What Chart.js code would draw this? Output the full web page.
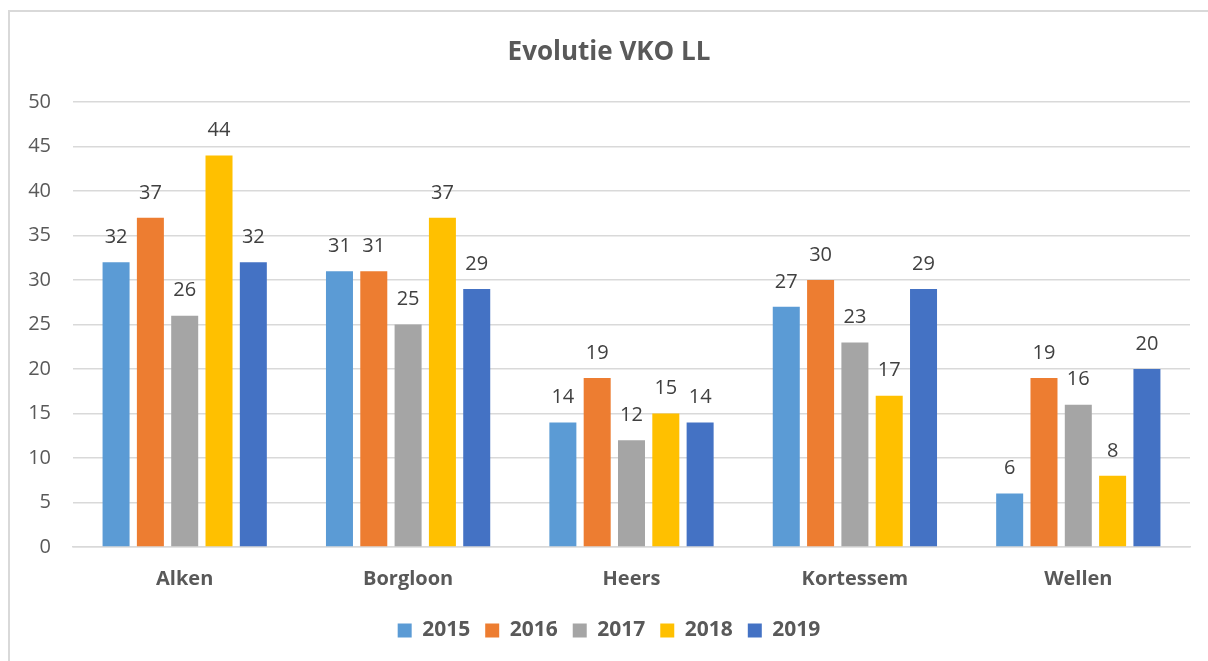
<!DOCTYPE html>
<html><head><meta charset="utf-8">
<script src="https://cdn.jsdelivr.net/npm/chart.js@4/dist/chart.umd.min.js"></script>
<style>html,body{margin:0;padding:0;background:#fff;}#wrap{position:absolute;left:0;top:0;width:1208px;height:661px;}</style>
</head><body><div id="wrap"><canvas id="c"></canvas></div>
<script>
const categories = ["Alken", "Borgloon", "Heers", "Kortessem", "Wellen"];
const years = ["2015", "2016", "2017", "2018", "2019"];
const v2015 = [32, 31, 14, 27, 6];
const v2016 = [37, 31, 19, 30, 19];
const v2017 = [26, 25, 12, 23, 16];
const v2018 = [44, 37, 15, 17, 8];
const v2019 = [32, 29, 14, 29, 20];
const colors = ["#5B9BD5", "#ED7D31", "#A5A5A5", "#FFC000", "#4472C4"];
const series = [v2015, v2016, v2017, v2018, v2019];
const FONT = "'Open Sans', 'DejaVu Sans', sans-serif";

const framePlugin = {
  id: 'frame',
  beforeDraw(chart) {
    const ctx = chart.ctx;
    ctx.save();
    ctx.fillStyle = '#fff';
    ctx.fillRect(0, 0, chart.width, chart.height);
    ctx.strokeStyle = '#d9d9d9';
    ctx.lineWidth = 2;
    ctx.beginPath();
    ctx.moveTo(9, chart.height);
    ctx.lineTo(9, 11);
    ctx.lineTo(chart.width, 11);
    ctx.stroke();
    ctx.restore();
  }
};
const labelPlugin = {
  id: 'vlabels',
  afterDatasetsDraw(chart) {
    const ctx = chart.ctx;
    ctx.save();
    ctx.font = "20px " + FONT;
    ctx.fillStyle = '#404040';
    ctx.textAlign = 'center';
    ctx.textBaseline = 'middle';
    chart.data.datasets.forEach((ds, i) => {
      const meta = chart.getDatasetMeta(i);
      meta.data.forEach((el, j) => {
        ctx.fillText(String(ds.data[j]), el.x, el.y - 25);
      });
    });
    ctx.restore();
  }
};

new Chart(document.getElementById('c'), {
  type: 'bar',
  data: {
    labels: categories,
    datasets: years.map((y, i) => ({
      label: y,
      data: series[i],
      backgroundColor: colors[i],
      borderWidth: 0,
      categoryPercentage: 0.768,
      barPercentage: 0.787
    }))
  },
  options: {
    responsive: true,
    maintainAspectRatio: false,
    animation: false,
    layout: { padding: { left: 28, right: 18, top: 22, bottom: 10 } },
    plugins: {
      title: {
        display: true,
        text: 'Evolutie VKO LL',
        color: '#595959',
        font: { family: FONT, size: 26, weight: 'bold' },
        padding: { top: 15, bottom: 34 }
      },
      legend: {
        position: 'bottom',
        labels: {
          color: '#595959',
          font: { family: FONT, size: 21, weight: 'bold' },
          boxWidth: 14, boxHeight: 14,
          padding: 15
        }
      },
      tooltip: { enabled: false }
    },
    scales: {
      y: {
        min: 0, max: 50,
        ticks: { stepSize: 5, color: '#595959', font: { family: FONT, size: 20 }, padding: 22 },
        grid: { color: '#d9d9d9', lineWidth: 1.5, drawTicks: false },
        border: { display: false },
        afterFit(s) { s.width = 45; }
      },
      x: {
        ticks: { color: '#595959', font: { family: FONT, size: 20, weight: 'bold' }, padding: 20 },
        grid: { display: false, drawTicks: false },
        border: { color: '#d9d9d9', width: 1.5 },
        afterFit(s) { s.height = 58; }
      }
    }
  },
  plugins: [framePlugin, labelPlugin]
});
</script></body></html>
